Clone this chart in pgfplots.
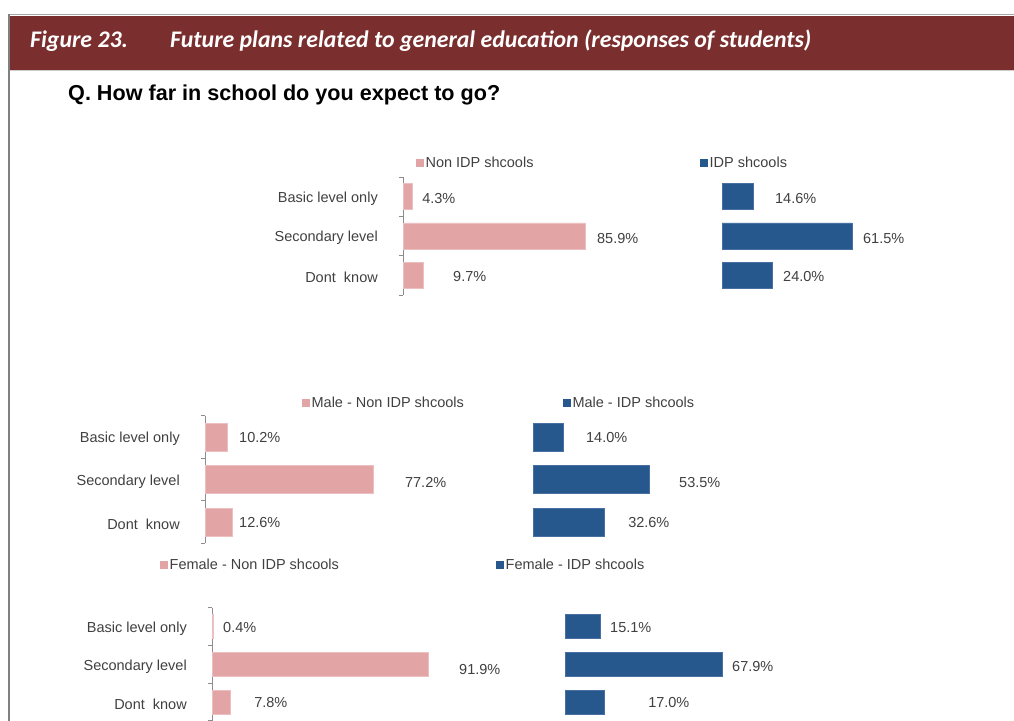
\documentclass[border=0pt]{standalone}
\usepackage{pgfplots}
\pgfplotsset{compat=1.18}
\usepackage{fontspec}
\setmainfont{Liberation Sans}
\newfontfamily\titlefont{Carlito}
\definecolor{headred}{RGB}{122,46,46}
\definecolor{pinkbar}{RGB}{226,164,164}
\definecolor{pinkedge}{RGB}{236,192,192}
\definecolor{bluebar}{RGB}{38,88,142}
\definecolor{blueedge}{RGB}{72,112,162}
\definecolor{labgray}{RGB}{64,64,64}
\definecolor{axgray}{RGB}{140,140,140}
\newcommand\chartfont{\fontsize{14.5}{16}\selectfont}
\pgfplotsset{
  base/.style={scale only axis, xmin=0, xmax=100, ymin=-0.5, ymax=2.5, y dir=reverse,
    clip=false, anchor=south west,
    /pgf/number format/assume math mode=true,
    legend style={draw=none, fill=none, anchor=west, inner sep=0pt, font=\chartfont, text=labgray,
      legend cell align=left}},
  withaxis/.style={base, hide x axis, axis y line*=left,
    ytick={0,1,2}, yticklabels={Basic level only, Secondary level, Dont\ \ know},
    major tick length=0pt,
    extra y ticks={-0.5,0.5,1.5,2.5}, extra y tick labels={},
    extra y tick style={major tick length=4pt, tick align=outside},
    y axis line style={draw=axgray, line width=0.9pt}, tick style={draw=axgray, line width=0.9pt},
    yticklabel style={font=\chartfont, text=labgray, anchor=east, inner sep=0pt, xshift=-25pt, yshift=-2pt}},
  noaxis/.style={base, hide axis},
  pinkleg/.style={legend image code/.code={\fill[pinkbar] (0pt,-3.5pt) rectangle (7pt,3.5pt);}},
  blueleg/.style={legend image code/.code={\fill[bluebar] (0pt,-3.5pt) rectangle (7pt,3.5pt);}},
  lab/.style={draw=none, mark=none, forget plot, nodes near coords={\pgfmathprintnumber[fixed,fixed zerofill,precision=1,assume math mode=true]{\pgfplotspointmeta}\%},
    point meta=explicit,
    every node near coord/.style={anchor=west, inner sep=0pt, font=\chartfont, text=labgray}},
}
\begin{document}
\begin{tikzpicture}[x=1pt,y=1pt]
\path[use as bounding box] (0pt,0pt) rectangle (1014pt,720pt);
% frame and header
\fill[headred] (9,650) rectangle (1014,704);
\draw[gray!70, line width=1.5pt] (9,705.5) -- (1014,705.5);
\draw[gray!40, line width=1pt] (9,649.5) -- (1014,649.5);
\draw[gray, line width=2pt] (9,-1) -- (9,706);
\node[anchor=base west, text=white, inner sep=0pt] at (30,672) {\titlefont\fontsize{23.8}{26}\selectfont\bfseries\itshape Figure 23.};
\node[anchor=base west, text=white, inner sep=0pt] at (170,672) {\titlefont\fontsize{23.8}{26}\selectfont\bfseries\itshape Future plans related to general education (responses of students)};
\node[anchor=base west, inner sep=0pt] at (68,619) {\fontsize{21.6}{24}\selectfont\bfseries Q. How far in school do you expect to go?};

% ---------- Panel 1: all students ----------
\begin{axis}[withaxis, pinkleg, at={(403pt,425pt)}, width=212pt, height=118pt,
  legend style={at={(0.061,1.12)}}]
\addplot[xbar, bar width=26pt, fill=pinkbar, draw=pinkedge] coordinates {(4.3,0) (85.9,1) (9.7,2)};
\addlegendentry{Non IDP shcools}
\addplot[lab] table[x=lx, y=y, meta=v] {
lx y v
9.0 0.04 4.3
91.5 1.06 85.9
23.6 2.04 9.7
};
\end{axis}
\begin{axis}[noaxis, blueleg, at={(722pt,425pt)}, width=211pt, height=118pt,
  legend style={at={(-0.104,1.12)}}]
\addplot[xbar, bar width=26pt, fill=bluebar, draw=blueedge] coordinates {(14.6,0) (61.5,1) (24.0,2)};
\addlegendentry{IDP shcools}
\addplot[lab] table[x=lx, y=y, meta=v] {
lx y v
25.1 0.04 14.6
66.8 1.06 61.5
28.9 2.04 24.0
};
\end{axis}

% ---------- Panel 2: male ----------
\begin{axis}[withaxis, pinkleg, at={(205pt,176.75pt)}, width=218pt, height=127.5pt,
  legend style={at={(0.445,1.1)}}]
\addplot[xbar, bar width=28pt, fill=pinkbar, draw=pinkedge] coordinates {(10.2,0) (77.2,1) (12.6,2)};
\addlegendentry{Male - Non IDP shcools}
\addplot[lab] table[x=lx, y=y, meta=v] {
lx y v
15.6 0.02 10.2
91.7 1.06 77.2
15.6 2.02 12.6
};
\end{axis}
\begin{axis}[noaxis, blueleg, at={(533pt,176.75pt)}, width=217pt, height=127.5pt,
  legend style={at={(0.138,1.1)}}]
\addplot[xbar, bar width=28pt, fill=bluebar, draw=blueedge] coordinates {(14.0,0) (53.5,1) (32.6,2)};
\addlegendentry{Male - IDP shcools}
\addplot[lab] table[x=lx, y=y, meta=v] {
lx y v
24.4 0.02 14.0
67.3 1.06 53.5
43.8 2.02 32.6
};
\end{axis}

% ---------- Panel 3: female ----------
\begin{axis}[withaxis, pinkleg, at={(212pt,-0.9pt)}, width=235pt, height=113.3pt,
  legend style={at={(-0.221,1.38)}}]
\addplot[xbar, bar width=24pt, fill=pinkbar, draw=pinkedge] coordinates {(0.4,0) (91.9,1) (7.8,2)};
\addlegendentry{Female - Non IDP shcools}
\addplot[lab] table[x=lx, y=y, meta=v] {
lx y v
4.7 0.03 0.4
105.1 1.15 91.9
17.9 2.02 7.8
};
\end{axis}
\begin{axis}[noaxis, blueleg, at={(565pt,-0.9pt)}, width=232pt, height=113.3pt,
  legend style={at={(-0.297,1.38)}}]
\addplot[xbar, bar width=24pt, fill=bluebar, draw=blueedge] coordinates {(15.1,0) (67.9,1) (17.0,2)};
\addlegendentry{Female - IDP shcools}
\addplot[lab] table[x=lx, y=y, meta=v] {
lx y v
19.4 0.03 15.1
72.0 1.06 67.9
35.8 2.02 17.0
};
\end{axis}
\end{tikzpicture}
\end{document}
